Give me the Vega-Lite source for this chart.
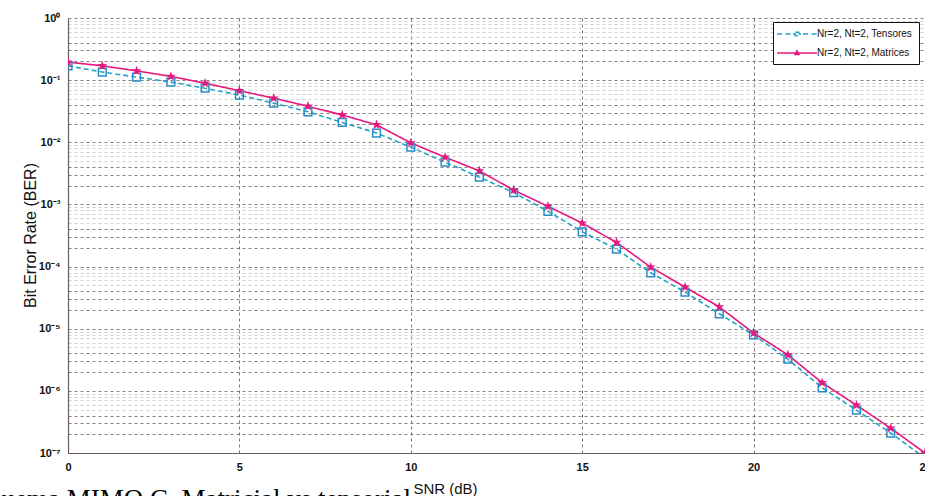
{
  "$schema": "https://vega.github.io/schema/vega-lite/v6.json",
  "width": 857,
  "height": 435,
  "autosize": {"type": "none"},
  "padding": {"left": 68, "top": 18, "right": 0, "bottom": 43},
  "background": "white",
  "config": {"view": {"stroke": null}, "font": "Liberation Sans"},
  "title": {
    "text": "quema MIMO C. Matricial vs tensorial",
    "orient": "bottom",
    "anchor": "start",
    "frame": "group",
    "font": "Liberation Serif",
    "fontSize": 27,
    "fontWeight": "normal",
    "color": "#000000",
    "dx": -80,
    "offset": -9
  },
  "data": {
    "values": [
      {"snr": 0, "ber": 0.195, "serie": "Nr=2, Nt=2, Matrices"},
      {"snr": 1, "ber": 0.170, "serie": "Nr=2, Nt=2, Matrices"},
      {"snr": 2, "ber": 0.141, "serie": "Nr=2, Nt=2, Matrices"},
      {"snr": 3, "ber": 0.115, "serie": "Nr=2, Nt=2, Matrices"},
      {"snr": 4, "ber": 0.0891, "serie": "Nr=2, Nt=2, Matrices"},
      {"snr": 5, "ber": 0.0676, "serie": "Nr=2, Nt=2, Matrices"},
      {"snr": 6, "ber": 0.0513, "serie": "Nr=2, Nt=2, Matrices"},
      {"snr": 7, "ber": 0.0380, "serie": "Nr=2, Nt=2, Matrices"},
      {"snr": 8, "ber": 0.0275, "serie": "Nr=2, Nt=2, Matrices"},
      {"snr": 9, "ber": 0.0191, "serie": "Nr=2, Nt=2, Matrices"},
      {"snr": 10, "ber": 0.00977, "serie": "Nr=2, Nt=2, Matrices"},
      {"snr": 11, "ber": 0.00575, "serie": "Nr=2, Nt=2, Matrices"},
      {"snr": 12, "ber": 0.00347, "serie": "Nr=2, Nt=2, Matrices"},
      {"snr": 13, "ber": 0.00170, "serie": "Nr=2, Nt=2, Matrices"},
      {"snr": 14, "ber": 0.000933, "serie": "Nr=2, Nt=2, Matrices"},
      {"snr": 15, "ber": 0.000501, "serie": "Nr=2, Nt=2, Matrices"},
      {"snr": 16, "ber": 0.000245, "serie": "Nr=2, Nt=2, Matrices"},
      {"snr": 17, "ber": 0.0000977, "serie": "Nr=2, Nt=2, Matrices"},
      {"snr": 18, "ber": 0.0000468, "serie": "Nr=2, Nt=2, Matrices"},
      {"snr": 19, "ber": 0.0000224, "serie": "Nr=2, Nt=2, Matrices"},
      {"snr": 20, "ber": 0.00000851, "serie": "Nr=2, Nt=2, Matrices"},
      {"snr": 21, "ber": 0.0000038, "serie": "Nr=2, Nt=2, Matrices"},
      {"snr": 22, "ber": 0.00000135, "serie": "Nr=2, Nt=2, Matrices"},
      {"snr": 23, "ber": 5.89e-7, "serie": "Nr=2, Nt=2, Matrices"},
      {"snr": 24, "ber": 2.51e-7, "serie": "Nr=2, Nt=2, Matrices"},
      {"snr": 25, "ber": 1.0e-7, "serie": "Nr=2, Nt=2, Matrices"},
      {"snr": 0, "ber": 0.170, "serie": "Nr=2, Nt=2, Tensores"},
      {"snr": 1, "ber": 0.135, "serie": "Nr=2, Nt=2, Tensores"},
      {"snr": 2, "ber": 0.112, "serie": "Nr=2, Nt=2, Tensores"},
      {"snr": 3, "ber": 0.0933, "serie": "Nr=2, Nt=2, Tensores"},
      {"snr": 4, "ber": 0.0741, "serie": "Nr=2, Nt=2, Tensores"},
      {"snr": 5, "ber": 0.0575, "serie": "Nr=2, Nt=2, Tensores"},
      {"snr": 6, "ber": 0.0427, "serie": "Nr=2, Nt=2, Tensores"},
      {"snr": 7, "ber": 0.0309, "serie": "Nr=2, Nt=2, Tensores"},
      {"snr": 8, "ber": 0.0209, "serie": "Nr=2, Nt=2, Tensores"},
      {"snr": 9, "ber": 0.0141, "serie": "Nr=2, Nt=2, Tensores"},
      {"snr": 10, "ber": 0.00832, "serie": "Nr=2, Nt=2, Tensores"},
      {"snr": 11, "ber": 0.00479, "serie": "Nr=2, Nt=2, Tensores"},
      {"snr": 12, "ber": 0.00275, "serie": "Nr=2, Nt=2, Tensores"},
      {"snr": 13, "ber": 0.00155, "serie": "Nr=2, Nt=2, Tensores"},
      {"snr": 14, "ber": 0.000776, "serie": "Nr=2, Nt=2, Tensores"},
      {"snr": 15, "ber": 0.000363, "serie": "Nr=2, Nt=2, Tensores"},
      {"snr": 16, "ber": 0.000191, "serie": "Nr=2, Nt=2, Tensores"},
      {"snr": 17, "ber": 0.0000794, "serie": "Nr=2, Nt=2, Tensores"},
      {"snr": 18, "ber": 0.0000389, "serie": "Nr=2, Nt=2, Tensores"},
      {"snr": 19, "ber": 0.0000174, "serie": "Nr=2, Nt=2, Tensores"},
      {"snr": 20, "ber": 0.00000794, "serie": "Nr=2, Nt=2, Tensores"},
      {"snr": 21, "ber": 0.00000324, "serie": "Nr=2, Nt=2, Tensores"},
      {"snr": 22, "ber": 0.00000112, "serie": "Nr=2, Nt=2, Tensores"},
      {"snr": 23, "ber": 4.9e-7, "serie": "Nr=2, Nt=2, Tensores"},
      {"snr": 24, "ber": 2.09e-7, "serie": "Nr=2, Nt=2, Tensores"},
      {"snr": 25, "ber": 8.3e-8, "serie": "Nr=2, Nt=2, Tensores"}
    ]
  },
  "encoding": {
    "x": {
      "field": "snr",
      "type": "quantitative",
      "scale": {"domain": [0, 25], "nice": false, "zero": false},
      "axis": {
        "values": [0, 5, 10, 15, 20, 25],
        "title": "SNR (dB)",
        "titleFontSize": 15,
        "titleFontWeight": "normal",
        "titleColor": "#111111",
        "titleX": 377,
        "titleY": 40,
        "titleAlign": "center",
        "titleBaseline": "alphabetic",
        "labelFontSize": 11,
        "labelFontWeight": "bold",
        "labelColor": "#111111",
        "labelPadding": 8,
        "labelFlush": false,
        "ticks": false,
        "grid": true,
        "gridDash": [3, 3],
        "gridColor": "#5e5050",
        "gridWidth": 0.8,
        "domainColor": "#6b5b5b",
        "domainWidth": 1.2
      }
    },
    "y": {
      "field": "ber",
      "type": "quantitative",
      "scale": {"type": "log", "domain": [1e-7, 1], "nice": false},
      "axis": {
        "values": [1e-7, 2e-7, 3e-7, 4e-7, 5e-7, 6e-7, 7e-7, 8e-7, 9e-7,
                   1e-6, 2e-6, 3e-6, 4e-6, 5e-6, 6e-6, 7e-6, 8e-6, 9e-6,
                   1e-5, 2e-5, 3e-5, 4e-5, 5e-5, 6e-5, 7e-5, 8e-5, 9e-5,
                   1e-4, 2e-4, 3e-4, 4e-4, 5e-4, 6e-4, 7e-4, 8e-4, 9e-4,
                   1e-3, 2e-3, 3e-3, 4e-3, 5e-3, 6e-3, 7e-3, 8e-3, 9e-3,
                   1e-2, 2e-2, 3e-2, 4e-2, 5e-2, 6e-2, 7e-2, 8e-2, 9e-2,
                   1e-1, 2e-1, 3e-1, 4e-1, 5e-1, 6e-1, 7e-1, 8e-1, 9e-1, 1],
        "labelExpr": "abs(log(datum.value)/LN10 - round(log(datum.value)/LN10)) < 0.001 ? '10' + (round(log(datum.value)/LN10) == 0 ? '⁰' : '⁻' + ['', '¹', '²', '³', '⁴', '⁵', '⁶', '⁷'][-round(log(datum.value)/LN10)]) : ''",
        "labelFontSize": 11,
        "labelFontWeight": "bold",
        "labelColor": "#111111",
        "labelPadding": 8,
        "labelOverlap": false,
        "labelFlush": false,
        "ticks": false,
        "title": "Bit Error Rate (BER)",
        "titleFontSize": 16,
        "titleFontWeight": "normal",
        "titleColor": "#111111",
        "titleX": -38,
        "titleY": 217,
        "titleAngle": -90,
        "titleAlign": "center",
        "titleBaseline": "middle",
        "grid": true,
        "gridWidth": 0.8,
        "gridDash": [3, 3],
        "gridColor": {
          "condition": {"test": "datum.value / pow(10, floor(log(datum.value)/LN10 + 0.001)) < 4.5", "value": "#6a5e5e"},
          "value": "#c4c4c4"
        },
        "domainColor": "#6b5b5b",
        "domainWidth": 1.2
      }
    }
  },
  "layer": [
    {
      "mark": {"type": "line", "clip": true, "strokeWidth": 1.6},
      "encoding": {
        "stroke": {
          "field": "serie",
          "type": "nominal",
          "scale": {
            "domain": ["Nr=2, Nt=2, Tensores", "Nr=2, Nt=2, Matrices"],
            "range": ["#22a3c8", "#e5197d"]
          },
          "legend": {
            "title": null,
            "orient": "none",
            "legendX": 705,
            "legendY": 4,
            "direction": "vertical",
            "fillColor": "white",
            "strokeColor": "#111111",
            "padding": 6,
            "symbolSize": 100,
            "symbolOffset": 12,
            "labelOffset": 14,
            "symbolStrokeWidth": 1.5,
            "labelFontSize": 10,
            "labelFont": "Liberation Sans",
            "labelColor": "#111111",
            "rowPadding": 8,
            "encode": {
              "symbols": {
                "update": {
                  "shape": {"signal": "datum.value == 'Nr=2, Nt=2, Tensores' ? 'M-4,0L-2.9,0M-2.3,0L-1.2,0M-0.8,0L-0.35,0M0.35,0L0.8,0M1.2,0L2.3,0M2.9,0L4,0M-0.35,-0.35L0.35,-0.35L0.35,0.35L-0.35,0.35Z' : 'M-4,0L4,0M0,-0.45L0.4,0.3L-0.4,0.3Z'"},
                  "fill": {"signal": "datum.value == 'Nr=2, Nt=2, Tensores' ? 'transparent' : '#e5197d'"}
                }
              }
            }
          }
        },
        "strokeDash": {
          "field": "serie",
          "type": "nominal",
          "scale": {
            "domain": ["Nr=2, Nt=2, Tensores", "Nr=2, Nt=2, Matrices"],
            "range": [[5, 3], [1, 0]]
          },
          "legend": null
        }
      }
    },
    {
      "transform": [{"filter": "datum.serie == 'Nr=2, Nt=2, Tensores'"}],
      "mark": {"type": "point", "clip": true, "shape": "square", "filled": false, "color": "#2a8cc8", "strokeWidth": 1.5, "size": 60, "opacity": 1}
    },
    {
      "transform": [{"filter": "datum.serie == 'Nr=2, Nt=2, Matrices'"}],
      "mark": {"type": "point", "clip": true, "shape": "M0,-1L0.235,-0.324L0.951,-0.309L0.38,0.124L0.588,0.809L0,0.4L-0.588,0.809L-0.38,0.124L-0.951,-0.309L-0.235,-0.324Z", "filled": true, "color": "#e5197d", "size": 110, "opacity": 1}
    }
  ]
}
